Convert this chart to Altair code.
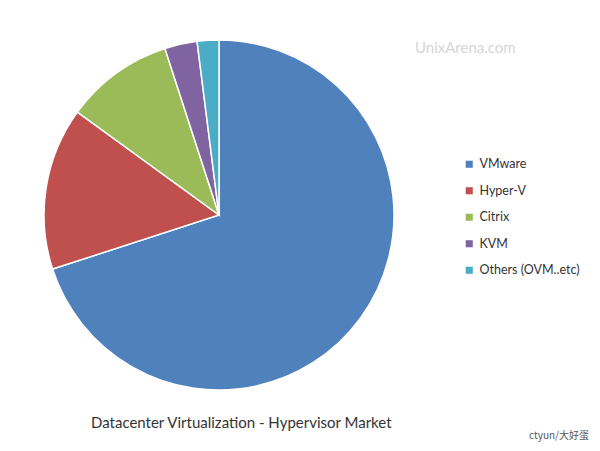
import altair as alt
import pandas as pd

categories = ["VMware", "Hyper-V", "Citrix", "KVM", "Others (OVM..etc)"]
shares = [70, 15, 10, 3, 2]
colors = ["#4F81BD", "#C0504D", "#9BBB59", "#8064A2", "#4BACC6"]

title_text = ["Datacenter Virtualization - Hypervisor Market"]
watermark_text = ["UnixArena.com"]
credit_text = ["ctyun/大好蛋"]

df = pd.DataFrame({"category": categories, "share": shares, "idx": list(range(len(categories)))})

FONT = "Lato"

pie = alt.Chart(df).mark_arc(outerRadius=175, stroke="white", strokeWidth=1.5).encode(
    theta=alt.Theta("share:Q", stack=True),
    color=alt.Color(
        "category:N",
        scale=alt.Scale(domain=categories, range=colors),
        sort=categories,
        legend=alt.Legend(
            title=None,
            orient="none",
            legendX=455,
            legendY=150,
            symbolType="square",
            symbolSize=50,
            symbolStrokeWidth=0,
            labelFontSize=12.5,
            labelFont=FONT,
            labelColor="#333333",
            rowPadding=13.5,
            labelOffset=4,
        ),
    ),
    order=alt.Order("idx:Q"),
    x=alt.value(211),
    y=alt.value(207),
)

title = alt.Chart(pd.DataFrame({"t": title_text})).mark_text(
    font=FONT, fontSize=15, color="#333333", align="left", baseline="middle"
).encode(text="t:N", x=alt.value(83), y=alt.value(415))

watermark = alt.Chart(pd.DataFrame({"t": watermark_text})).mark_text(
    font=FONT, fontSize=15, color="#d6d6d6", align="left", baseline="middle"
).encode(text="t:N", x=alt.value(407), y=alt.value(40))

credit = alt.Chart(pd.DataFrame({"t": credit_text})).mark_text(
    font="Noto Sans CJK SC", fontSize=10, color="#555555", align="right", baseline="bottom"
).encode(text="t:N", x=alt.value(581), y=alt.value(433))

chart = alt.layer(pie, title, watermark, credit).properties(
    width=584, height=435, autosize=alt.AutoSizeParams(type="none"), padding=0
).configure_view(stroke=None)

chart.save("out.html", embed_options={"renderer": "svg", "actions": False})
